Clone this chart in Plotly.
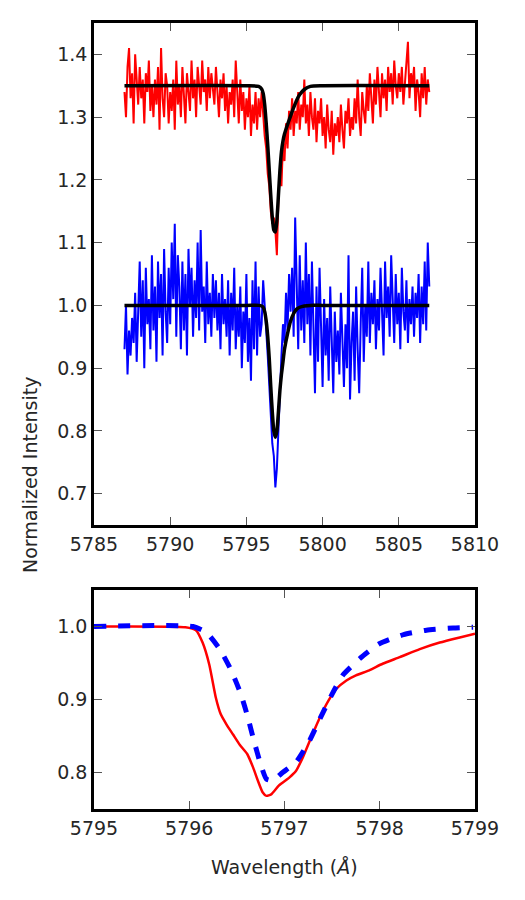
import numpy as np
import plotly.graph_objects as go

# ---------------- data ----------------
# observed spectra on a 0.1 A grid, 5787.0 .. 5807.0
wave_start, wave_end, n_pts = 5787.0, 5807.0, 201
obs_red = [
    1.34, 1.30, 1.38, 1.41, 1.33, 1.37, 1.29, 1.40, 1.36, 1.32,
    1.38, 1.33, 1.36, 1.29, 1.37, 1.34, 1.39, 1.31, 1.35, 1.30,
    1.36, 1.32, 1.38, 1.28, 1.41, 1.33, 1.30, 1.37, 1.35, 1.29,
    1.34, 1.31, 1.36, 1.28, 1.39, 1.32, 1.35, 1.30, 1.38, 1.33,
    1.29, 1.37, 1.34, 1.31, 1.39, 1.33, 1.36, 1.30, 1.38, 1.35,
    1.32, 1.39, 1.34, 1.36, 1.31, 1.38, 1.33, 1.37, 1.35, 1.32,
    1.38, 1.34, 1.30, 1.36, 1.33, 1.37, 1.31, 1.35, 1.29, 1.34,
    1.32, 1.36, 1.30, 1.39, 1.33, 1.29, 1.36, 1.31, 1.34, 1.28,
    1.33, 1.30, 1.35, 1.27, 1.32, 1.29, 1.34, 1.28, 1.33, 1.30,
    1.34, 1.30, 1.27, 1.25, 1.21, 1.19, 1.15, 1.13, 1.14, 1.12,
    1.08, 1.17, 1.21, 1.19, 1.26, 1.23, 1.29, 1.25, 1.31, 1.28,
    1.33, 1.27, 1.31, 1.29, 1.34, 1.28, 1.32, 1.30, 1.36, 1.29,
    1.32, 1.27, 1.34, 1.30, 1.28, 1.33, 1.26, 1.31, 1.29, 1.33,
    1.27, 1.30, 1.25, 1.32, 1.28, 1.26, 1.31, 1.24, 1.29, 1.27,
    1.30, 1.26, 1.32, 1.28, 1.25, 1.31, 1.29, 1.33, 1.27, 1.30,
    1.28, 1.33, 1.29, 1.36, 1.30, 1.27, 1.34, 1.31, 1.29, 1.35,
    1.31, 1.37, 1.33, 1.29, 1.36, 1.32, 1.38, 1.34, 1.30, 1.37,
    1.33, 1.36, 1.31, 1.38, 1.34, 1.37, 1.32, 1.39, 1.35, 1.33,
    1.37, 1.34, 1.38, 1.32, 1.36, 1.39, 1.42, 1.33, 1.37, 1.35,
    1.38, 1.31, 1.36, 1.34, 1.30, 1.37, 1.33, 1.38, 1.32, 1.36,
    1.34,
]
obs_blue = [
    0.93, 1.00, 0.89, 0.96, 0.92, 0.98, 0.94, 1.02, 0.91, 0.99,
    1.07, 0.95, 1.04, 0.90, 1.06, 0.97, 1.01, 0.93, 1.08, 0.96,
    1.03, 0.91, 1.07, 0.98, 1.05, 0.92, 1.09, 0.99, 0.94, 1.06,
    0.97, 1.10, 1.01, 1.13, 0.95, 1.08, 1.03, 0.93, 1.07, 0.96,
    1.05, 0.92, 1.09, 1.00, 1.06, 0.95, 1.04, 0.98, 1.10, 0.96,
    1.12, 0.99, 1.03, 0.94, 1.07, 0.97, 1.02, 0.95, 1.05, 0.98,
    1.04, 0.96, 1.02, 0.93, 1.05, 0.97, 1.01, 0.95, 1.04, 0.92,
    1.02, 0.96, 1.06, 0.93, 1.00, 0.95, 1.03, 0.90, 0.99, 0.94,
    1.05, 0.91, 0.98, 0.88, 1.04, 0.93, 1.07, 0.92, 1.03, 0.95,
    0.97, 1.04, 0.99, 0.96, 0.92, 0.88, 0.83, 0.78, 0.76, 0.71,
    0.74, 0.81, 0.86, 0.92, 0.97, 0.94, 1.02, 0.96, 1.05, 0.99,
    1.06, 0.95, 1.14, 1.02, 0.93, 1.08, 0.96, 1.04, 0.94, 1.10,
    0.97, 1.05, 0.92, 1.07, 0.96, 0.86, 1.03, 0.91, 1.06, 0.95,
    0.87, 1.01, 0.92, 0.98, 0.88, 1.03, 0.94, 0.86, 0.99, 0.91,
    0.96, 0.89, 1.02, 0.93, 0.87, 0.97, 0.90, 1.08, 0.85, 0.94,
    0.99, 0.88, 1.03, 0.93, 0.86, 0.97, 1.06, 0.91, 1.00, 0.95,
    1.07, 0.94, 1.02, 0.97, 1.04, 0.93, 1.01, 0.96, 1.06, 0.99,
    0.92, 1.07, 0.98, 1.03, 0.95, 1.08, 0.99, 0.94, 1.05, 0.97,
    1.02, 0.93, 1.06, 0.99, 0.96, 1.04, 0.94, 1.01, 0.97, 1.03,
    0.95, 1.02, 0.98, 1.05, 0.94, 1.03, 0.97, 1.07, 0.96, 1.10,
    1.03,
]

# model fits (top panel)
fit_wave = [5787.0, 5795.0, 5795.8, 5796.0, 5796.1, 5796.2, 5796.3, 5796.4,
            5796.5, 5796.6, 5796.7, 5796.8, 5796.9, 5797.0, 5797.1, 5797.2,
            5797.3, 5797.4, 5797.5, 5797.7, 5797.9, 5798.1, 5798.3, 5798.5,
            5798.8, 5799.2, 5800.0, 5807.0]
fit_red = [1.350, 1.350, 1.349, 1.345, 1.338, 1.320, 1.290, 1.255,
           1.215, 1.175, 1.140, 1.120, 1.117, 1.135, 1.175, 1.215,
           1.245, 1.262, 1.273, 1.288, 1.302, 1.315, 1.327, 1.336,
           1.344, 1.349, 1.350, 1.350]
fit_blue = [1.000, 1.000, 1.000, 0.999, 0.997, 0.990, 0.975, 0.950,
            0.915, 0.870, 0.830, 0.800, 0.790, 0.800, 0.830, 0.865,
            0.890, 0.910, 0.930, 0.955, 0.975, 0.987, 0.994, 0.997,
            0.999, 1.000, 1.000, 1.000]

# bottom panel profiles
prof_red_wave = [5795.0, 5795.96, 5796.07, 5796.14, 5796.21, 5796.28, 5796.33,
                 5796.39, 5796.46, 5796.53, 5796.61, 5796.67, 5796.72, 5796.77,
                 5796.81, 5796.86, 5796.94, 5797.05, 5797.12, 5797.19, 5797.28,
                 5797.37, 5797.46, 5797.54, 5797.65, 5797.75, 5797.89, 5798.03,
                 5798.21, 5798.42, 5798.63, 5798.84, 5799.0]
prof_red = [1.000, 0.999, 0.995, 0.978, 0.948, 0.902, 0.880,
            0.866, 0.852, 0.838, 0.825, 0.807, 0.789, 0.773,
            0.768, 0.770, 0.782, 0.793, 0.802, 0.820, 0.848,
            0.875, 0.898, 0.914, 0.926, 0.933, 0.940, 0.949,
            0.958, 0.969, 0.978, 0.985, 0.990]
prof_blue_wave = [5795.0, 5796.04, 5796.18, 5796.32, 5796.44, 5796.54, 5796.61,
                  5796.68, 5796.75, 5796.81, 5796.88, 5796.98, 5797.12, 5797.26,
                  5797.37, 5797.49, 5797.61, 5797.79, 5797.99, 5798.25, 5798.49,
                  5798.77, 5798.98]
prof_blue = [1.000, 1.000, 0.992, 0.969, 0.940, 0.908, 0.878,
             0.843, 0.811, 0.791, 0.789, 0.800, 0.814, 0.843,
             0.873, 0.905, 0.933, 0.956, 0.976, 0.989, 0.995,
             0.998, 0.999]

top_yticks = [0.7, 0.8, 0.9, 1.0, 1.1, 1.2, 1.3, 1.4]
top_xticks = [5785, 5790, 5795, 5800, 5805, 5810]
bot_yticks = [0.8, 0.9, 1.0]
bot_xticks = [5795, 5796, 5797, 5798, 5799]

# ---------------- figure ----------------
wave = np.linspace(wave_start, wave_end, n_pts)
FONT = "DejaVu Sans"
fig = go.Figure()

fig.add_trace(go.Scatter(x=wave, y=obs_red, mode="lines",
                         line=dict(color="#ff0000", width=2),
                         xaxis="x", yaxis="y", showlegend=False))
fig.add_trace(go.Scatter(x=wave, y=obs_blue, mode="lines",
                         line=dict(color="#0000ff", width=2),
                         xaxis="x", yaxis="y", showlegend=False))
fig.add_trace(go.Scatter(x=fit_wave, y=fit_red, mode="lines",
                         line=dict(color="black", width=3.5, shape="spline", smoothing=0.6),
                         xaxis="x", yaxis="y", showlegend=False))
fig.add_trace(go.Scatter(x=fit_wave, y=fit_blue, mode="lines",
                         line=dict(color="black", width=3.5, shape="spline", smoothing=0.6),
                         xaxis="x", yaxis="y", showlegend=False))

fig.add_trace(go.Scatter(x=prof_red_wave, y=prof_red, mode="lines",
                         line=dict(color="#ff0000", width=2.5, shape="spline", smoothing=0.5),
                         xaxis="x2", yaxis="y2", showlegend=False))
fig.add_trace(go.Scatter(x=prof_blue_wave, y=prof_blue, mode="lines",
                         line=dict(color="#0000ff", width=5, dash="12px,12px",
                                   shape="spline", smoothing=0.5),
                         xaxis="x2", yaxis="y2", showlegend=False))

H = 786.0
top_bottom = (809 - 525) / H
bot_top = (809 - 590) / H

axis_common = dict(showline=True, linecolor="black", linewidth=2.5, mirror="allticks",
                   ticks="inside", ticklen=8, tickwidth=1, tickcolor="#555555",
                   showgrid=False, zeroline=False,
                   tickfont=dict(family=FONT, size=19, color="#262626"))

fig.update_layout(
    width=525, height=900,
    margin=dict(l=94, r=50, t=23, b=91),
    paper_bgcolor="white", plot_bgcolor="white",
    font=dict(family=FONT, size=19, color="#262626"),
    xaxis=dict(domain=[0, 1], range=[5785, 5810], tickvals=top_xticks,
               anchor="y", **axis_common),
    yaxis=dict(domain=[top_bottom, 1], range=[0.65, 1.45], tickvals=top_yticks,
               tickformat=".1f", anchor="x", **axis_common),
    xaxis2=dict(domain=[0, 1], range=[5795, 5799], tickvals=bot_xticks,
                anchor="y2", **axis_common),
    yaxis2=dict(domain=[0, bot_top], range=[0.75, 1.05], tickvals=bot_yticks,
                tickformat=".1f", anchor="x2", **axis_common),
    annotations=[
        dict(text="Normalized Intensity", x=(30 - 94) / 381.0, y=(809 - 475) / H,
             xref="paper", yref="paper", textangle=-90, showarrow=False,
             xanchor="center", yanchor="middle",
             font=dict(family=FONT, size=19, color="#262626")),
        dict(text="Wavelength (<i>Å</i>)", x=0.5, y=(809 - 867) / H,
             xref="paper", yref="paper", showarrow=False,
             xanchor="center", yanchor="middle",
             font=dict(family=FONT, size=19, color="#262626")),
    ],
)

fig.write_html("out.html")
